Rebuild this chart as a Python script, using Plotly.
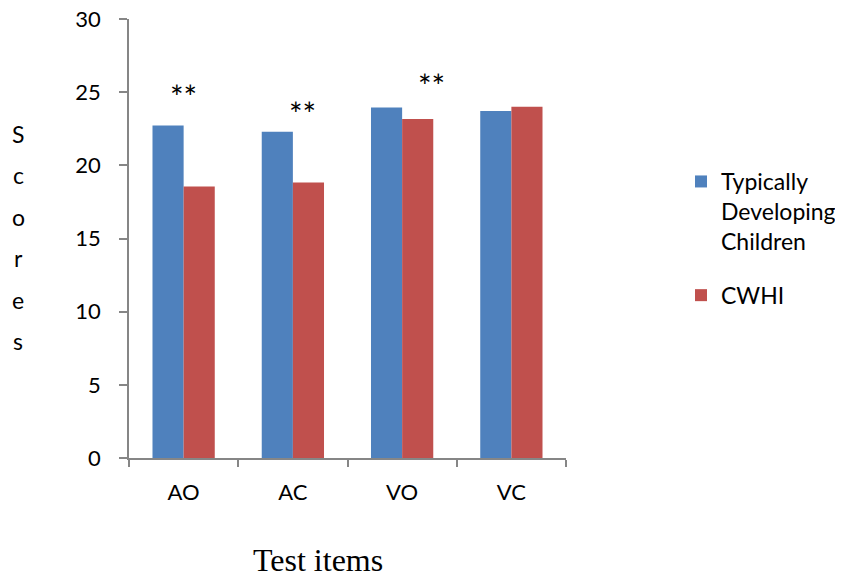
import plotly.graph_objects as go

categories = ["AO", "AC", "VO", "VC"]
typical = [22.73, 22.30, 23.96, 23.71]
cwhi = [18.56, 18.83, 23.17, 24.01]
series_names = ["Typically<br>Developing<br>Children", "CWHI"]
colors = ["#4F81BD", "#C0504D"]
sig_labels = ["**", "**", "**", ""]
sig_y = [24.7, 23.55, 25.43, None]
sig_xshift = [0, 10, 29, 0]

OFF = 8  # browser body margin
W, H = 843, 579 - OFF
L, R, T, B = 129 - OFF, 566 - OFF, 19 - OFF, 458 - OFF
pw, ph = R - L, B - T


def px_x(px):
    # px: screen pixel in reference picture
    return (px - OFF - L) / pw


def px_y(py):
    return (B - (py - OFF)) / ph


FONT = "Lato"

fig = go.Figure()
fig.add_trace(go.Bar(x=categories, y=typical, name=series_names[0],
                     marker=dict(color=colors[0], line=dict(width=0)),
                     legendgroup="a"))
fig.add_trace(go.Bar(x=categories, y=cwhi, name=series_names[1],
                     marker=dict(color=colors[1], line=dict(width=0)),
                     legendgroup="b"))

annotations = []
for cat, lab, yv, xs in zip(categories, sig_labels, sig_y, sig_xshift):
    if lab:
        annotations.append(dict(x=cat, y=yv, xref="x", yref="y", text=lab,
                                showarrow=False, xshift=xs,
                                font=dict(family=FONT, size=32, color="black"),
                                xanchor="center", yanchor="middle"))

# vertical y-axis title, one letter per line
for i, ch in enumerate("Scores"):
    annotations.append(dict(x=px_x(18), y=px_y(134 + i * 41.4), xref="paper", yref="paper",
                            text=ch, showarrow=False,
                            font=dict(family=FONT, size=23, color="black"),
                            xanchor="center", yanchor="middle"))

annotations.append(dict(x=px_x(318), y=px_y(580), xref="paper", yref="paper",
                        text="Test items", showarrow=False,
                        font=dict(family="Liberation Serif", size=32, color="black"),
                        xanchor="center", yanchor="bottom"))

axis_color = "#868686"
fig.update_layout(
    width=W, height=H,
    margin=dict(l=L, r=W - R, t=T, b=H - B, pad=0, autoexpand=False),
    paper_bgcolor="white", plot_bgcolor="white",
    barmode="group", bargap=0.43, bargroupgap=0,
    font=dict(family=FONT, size=22, color="black"),
    showlegend=True,
    legend=dict(x=px_x(681), y=px_y(160), xanchor="left", yanchor="top",
                font=dict(family=FONT, size=23, color="black"),
                traceorder="grouped", tracegroupgap=21, valign="top",
                bgcolor="rgba(0,0,0,0)"),
    annotations=annotations,
    xaxis=dict(range=[-0.5, 3.5], showline=True, linecolor=axis_color, linewidth=1.5,
               ticks="outside", ticklen=7, tickcolor=axis_color, tickwidth=1.5,
               tickson="boundaries", showgrid=False, zeroline=False, automargin=False,
               ticklabelstandoff=14, ticklabeloverflow="allow",
               tickfont=dict(family=FONT, size=22, color="black")),
    yaxis=dict(range=[0, 30], dtick=5, showline=True, linecolor=axis_color, linewidth=1.5,
               ticks="outside", ticklen=8, tickcolor=axis_color, tickwidth=1.5,
               showgrid=False, zeroline=False, automargin=False, ticklabelstandoff=14,
               ticklabeloverflow="allow",
               tickfont=dict(family=FONT, size=22, color="black")),
)

fig.write_html("out.html")
